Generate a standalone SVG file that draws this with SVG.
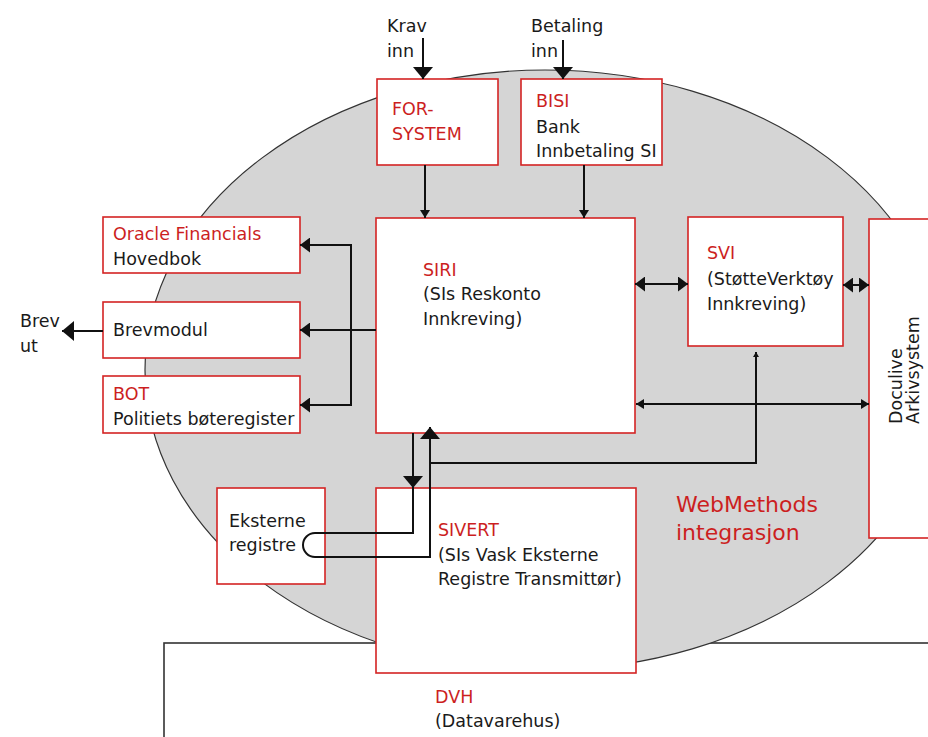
<svg xmlns="http://www.w3.org/2000/svg" width="928" height="737" viewBox="0 0 928 737">
<style>
text{font-family:"DejaVu Sans","Liberation Sans",sans-serif;font-size:17.5px;fill:#1a1a1a}
.r{fill:#cc1f1f}
.box{fill:#ffffff;stroke:#d42424;stroke-width:1.6}
.c{fill:none;stroke:#111;stroke-width:2}
.w{font-size:22px}
</style>
<defs>
<marker id="mBig" markerUnits="userSpaceOnUse" viewBox="0 0 12 20" refX="12" refY="10" markerWidth="12" markerHeight="20" orient="auto-start-reverse"><path d="M0,0 L12,10 L0,20 z" fill="#111"/></marker>
<marker id="mMed" markerUnits="userSpaceOnUse" viewBox="0 0 10 15" refX="10" refY="7.5" markerWidth="10" markerHeight="15" orient="auto-start-reverse"><path d="M0,0 L10,7.5 L0,15 z" fill="#111"/></marker>
<marker id="mSm" markerUnits="userSpaceOnUse" viewBox="0 0 8 10" refX="8" refY="5" markerWidth="8" markerHeight="10" orient="auto-start-reverse"><path d="M0,0 L8,5 L0,10 z" fill="#111"/></marker>
<marker id="mTiny" markerUnits="userSpaceOnUse" viewBox="0 0 5 6" refX="5" refY="3" markerWidth="5" markerHeight="6" orient="auto-start-reverse"><path d="M0,0 L5,3 L0,6 z" fill="#111"/></marker>
</defs>

<g id="dvh">
<rect x="164" y="643" width="780" height="110" fill="#ffffff" stroke="#333" stroke-width="1.6"/>
<text class="r" x="435" y="703">DVH</text>
<text x="435" y="727">(Datavarehus)</text>
</g>

<g id="webmethods">
<ellipse cx="545" cy="370" rx="400" ry="300" fill="#d5d5d5" stroke="#333" stroke-width="1.2"/>
<text class="r w" x="676" y="512">WebMethods</text>
<text class="r w" x="676" y="540">integrasjon</text>
</g>

<g id="for-system">
<rect class="box" x="377" y="79" width="121" height="86"/>
<text class="r" x="392" y="115">FOR-</text>
<text class="r" x="392" y="140">SYSTEM</text>
</g>

<g id="bisi">
<rect class="box" x="521" y="79" width="141" height="86"/>
<text class="r" x="536" y="107">BISI</text>
<text x="536" y="133">Bank</text>
<text x="536" y="157">Innbetaling SI</text>
</g>

<g id="oracle">
<rect class="box" x="103" y="217" width="197" height="56"/>
<text class="r" x="113" y="240">Oracle Financials</text>
<text x="113" y="265">Hovedbok</text>
</g>

<g id="brevmodul">
<rect class="box" x="103" y="302" width="197" height="56"/>
<text x="113" y="336">Brevmodul</text>
</g>

<g id="bot">
<rect class="box" x="103" y="376" width="197" height="57"/>
<text class="r" x="113" y="400">BOT</text>
<text x="113" y="425">Politiets bøteregister</text>
</g>

<g id="siri">
<rect class="box" x="376" y="218" width="259" height="215"/>
<text class="r" x="423" y="276">SIRI</text>
<text x="423" y="300">(SIs Reskonto</text>
<text x="423" y="325">Innkreving)</text>
</g>

<g id="svi">
<rect class="box" x="688" y="217" width="155" height="129"/>
<text class="r" x="707" y="259">SVI</text>
<text x="707" y="285">(StøtteVerktøy</text>
<text x="707" y="310">Innkreving)</text>
</g>

<g id="doculive">
<rect class="box" x="869" y="219" width="70" height="319"/>
<text transform="translate(902,424) rotate(-90)">Doculive</text>
<text transform="translate(919,424) rotate(-90)">Arkivsystem</text>
</g>

<g id="eksterne">
<rect class="box" x="217" y="488" width="108" height="96"/>
<text x="229" y="527">Eksterne</text>
<text x="229" y="551">registre</text>
</g>

<g id="sivert">
<rect class="box" x="376" y="488" width="260" height="185"/>
<text class="r" x="438" y="536">SIVERT</text>
<text x="438" y="561">(SIs Vask Eksterne</text>
<text x="438" y="585">Registre Transmittør)</text>
</g>

<g id="labels">
<text x="387" y="32">Krav</text>
<text x="387" y="57">inn</text>
<text x="531" y="32">Betaling</text>
<text x="531" y="57">inn</text>
<text x="20" y="327">Brev</text>
<text x="20" y="352">ut</text>
</g>

<g id="connectors">
<line class="c" x1="423" y1="38" x2="423" y2="79" marker-end="url(#mBig)"/>
<line class="c" x1="563" y1="40" x2="563" y2="79" marker-end="url(#mBig)"/>
<line class="c" x1="425" y1="165" x2="425" y2="218" marker-end="url(#mSm)" stroke-width="1.6"/>
<line class="c" x1="584" y1="165" x2="584" y2="218" marker-end="url(#mSm)" stroke-width="1.6"/>
<line class="c" x1="376" y1="330" x2="300" y2="330" marker-end="url(#mMed)" stroke-width="1.6"/>
<path class="c" d="M300,245 H351 V405 H300" stroke-width="1.6" marker-start="url(#mMed)" marker-end="url(#mMed)"/>
<line class="c" x1="103" y1="331" x2="62" y2="331" marker-end="url(#mBig)"/>
<line class="c" x1="635" y1="284" x2="688" y2="284" marker-start="url(#mMed)" marker-end="url(#mMed)"/>
<line class="c" x1="843" y1="285" x2="869" y2="285" marker-start="url(#mMed)" marker-end="url(#mMed)"/>
<line class="c" x1="636" y1="404" x2="869" y2="404" stroke-width="1.6" marker-start="url(#mSm)" marker-end="url(#mSm)"/>
<path class="c" d="M430,463 H756 V352" stroke-width="1.6" marker-end="url(#mTiny)"/>
<line class="c" x1="413" y1="433" x2="413" y2="488" marker-end="url(#mBig)"/>
<path class="c" d="M413,480 V533 H315 A12,12 0 0 0 315,557 H430 V427" marker-end="url(#mBig)"/>
</g>
</svg>
